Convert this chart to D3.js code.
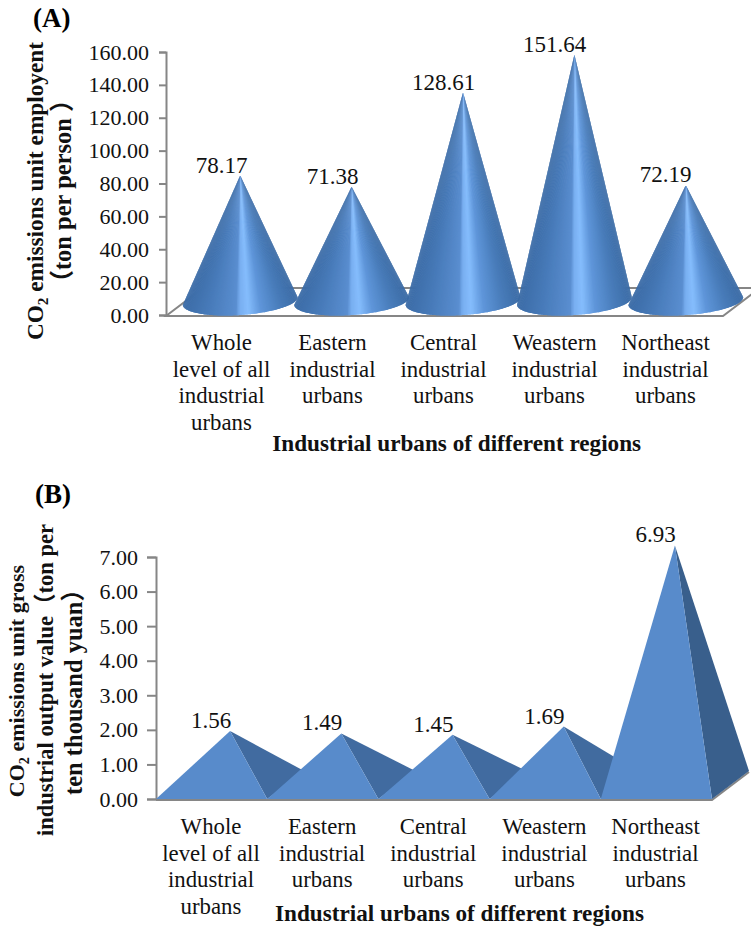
<!DOCTYPE html>
<html>
<head>
<meta charset="utf-8">
<script src="https://cdn.jsdelivr.net/npm/d3@7"></script>
<style>
body { margin: 0; background: #fff; }
svg { display: block; font-family: "Liberation Serif", "Noto Sans CJK SC", serif; }
.bold { font-weight: bold; }
</style>
</head>
<body>
<svg id="chart" width="751" height="928"></svg>
<script>
const categories = [
    ['Whole', 'level of all', 'industrial', 'urbans'],
    ['Eastern', 'industrial', 'urbans'],
    ['Central', 'industrial', 'urbans'],
    ['Weastern', 'industrial', 'urbans'],
    ['Northeast', 'industrial', 'urbans']
];
const valuesA = [78.17, 71.38, 128.61, 151.64, 72.19];
const ticksA = [0, 20, 40, 60, 80, 100, 120, 140, 160];
const valuesB = [1.56, 1.49, 1.45, 1.69, 6.93];
const ticksB = [0, 1, 2, 3, 4, 5, 6, 7];
const xTitle = 'Industrial urbans of different regions';

const svg = d3.select('#chart');
const fmt = d3.format('.2f');
const grey = '#868686';
const ink = '#111';
const depthX = 37, depthY = 28;
const serif = '"Liberation Serif", "Noto Sans CJK SC", serif';

function drawAxis(g, y, axisX, ticks, tickLen, pad) {
    let axis = g.append('g')
        .attr('transform', 'translate(' + axisX + ',0)')
        .call(d3.axisLeft(y).tickValues(ticks).tickFormat(fmt).tickSize(tickLen).tickPadding(pad));
    axis.selectAll('line, path').attr('stroke', grey).attr('stroke-width', 2);
    axis.selectAll('text').attr('font-size', 22).attr('font-family', serif).attr('fill', ink);
}

function drawCategories(g, x, top, step) {
    categories.forEach((lines, i) => {
        lines.forEach((line, j) => {
            g.append('text')
                .attr('x', x(i))
                .attr('y', top + j * step)
                .attr('text-anchor', 'middle')
                .attr('font-size', 22.8)
                .attr('fill', ink)
                .text(line);
        });
    });
}

function drawValueLabels(g, x, values, apexY) {
    values.forEach((v, i) => {
        g.append('text')
            .attr('x', x(i))
            .attr('y', apexY(v) - 3)
            .attr('text-anchor', 'middle')
            .attr('font-size', 23)
            .attr('fill', ink)
            .text(fmt(v));
    });
}

// y title line, optional CO2 subscript at the start
function yTitleLine(g, px, py, size, text, sub) {
    let t = g.append('text')
        .attr('class', 'bold')
        .attr('transform', 'translate(' + px + ',' + py + ') rotate(-90)')
        .attr('text-anchor', 'middle')
        .attr('font-size', size)
        .attr('fill', ink);
    if (sub) {
        t.append('tspan').text('CO');
        t.append('tspan').attr('dy', 5).attr('font-size', size * 0.65).text('2');
        t.append('tspan').attr('dy', -5).text(text);
    } else {
        t.text(text);
    }
}

/* ---------- panel A: cones ---------- */
const gA = svg.append('g');
const xA = d3.scaleBand().domain(d3.range(valuesA.length)).range([166, 723]);
const labelA = d3.scalePoint().domain(d3.range(valuesA.length)).range([221.5, 665.5]);
const yA = d3.scaleLinear().domain([0, 160]).range([315, 52]);

const floorA = [[166 + depthX, 316 - depthY], [723 + depthX, 316 - depthY], [723, 316], [166, 316], [166 + depthX, 316 - depthY]];
gA.append('path').attr('d', d3.line()(floorA)).attr('fill', 'none').attr('stroke', grey).attr('stroke-width', 2);
drawAxis(gA, yA, 166, ticksA, 7, 10);

const coneShade = d3.scaleLinear()
    .domain([-1, -0.6, -0.08, -0.01, 0.14, 0.36, 0.68, 1])
    .range(['#3c6ca7', '#477ab8', '#5a8ed0', '#78aef0', '#85bdfd', '#5f96da', '#4a7ebc', '#3c6ca6']);
const rx = 57.5, ry = 14, tilt = 4 * Math.PI / 180;
const apexA = (v) => yA(v) - 11;
const sliceAngles = d3.range(0, 121).map((d) => d * Math.PI / 120);

function basePoint(cx, cy, a) {
    let px = rx * Math.cos(a), py = ry * Math.sin(a);
    return [cx + px * Math.cos(tilt) + py * Math.sin(tilt), cy - px * Math.sin(tilt) + py * Math.cos(tilt)];
}

valuesA.forEach((v, i) => {
    let cx = xA(i) + xA.bandwidth() / 2 + depthX / 2;
    let cy = yA(0) - 14;
    let cone = gA.append('g');
    // slices overlap the next one so no seams show
    sliceAngles.slice(0, -1).forEach((a, k) => {
        let end = sliceAngles[Math.min(k + 2, sliceAngles.length - 1)];
        let pts = [[cx, apexA(v)], basePoint(cx, cy, a), basePoint(cx, cy, sliceAngles[k + 1]), basePoint(cx, cy, end)];
        cone.append('path')
            .attr('d', d3.line()(pts) + 'Z')
            .attr('fill', coneShade(Math.cos(a)));
    });
});
drawValueLabels(gA, labelA, valuesA, apexA);
drawCategories(gA, labelA, 350, 26.6);

gA.append('text').attr('class', 'bold').attr('x', 33).attr('y', 27).attr('font-size', 27).text('(A)');
yTitleLine(gA, 43, 191, 23.3, ' emissions unit employent', true);
yTitleLine(gA, 71, 191, 24.5, '（ton per person ）', false);
gA.append('text').attr('class', 'bold').attr('x', 456.7).attr('y', 451)
    .attr('text-anchor', 'middle').attr('font-size', 23.2).attr('fill', ink).text(xTitle);

/* ---------- panel B: pyramids ---------- */
const gB = svg.append('g');
const xB = d3.scaleBand().domain(d3.range(valuesB.length)).range([156, 712]);
const labelB = d3.scalePoint().domain(d3.range(valuesB.length)).range([211, 655.5]);
const yB = d3.scaleLinear().domain([0, 7]).range([799, 557]);
const apexB = (v) => yB(v) - depthY / 2;
const sideShade = d3.scaleLinear().domain([1.5, 6.93]).range(['#416ba0', '#395f8c']);

gB.append('path')
    .attr('d', d3.line()([[156, 800], [712, 800], [712 + depthX, 800 - depthY]]))
    .attr('fill', 'none').attr('stroke', grey).attr('stroke-width', 2);
drawAxis(gB, yB, 156, ticksB, 9, 9);

valuesB.forEach((v, i) => {
    let left = xB(i), right = left + xB.bandwidth();
    let mid = (left + right) / 2;
    let apex = [mid + depthX / 2, apexB(v)];
    gB.append('path')
        .attr('d', d3.line()([apex, [right, yB(0)], [right + depthX, yB(0) - depthY]]) + 'Z')
        .attr('fill', sideShade(v));
    gB.append('path')
        .attr('d', d3.line()([apex, [left, yB(0)], [right, yB(0)]]) + 'Z')
        .attr('fill', '#588bcb');
});
drawValueLabels(gB, labelB, valuesB, apexB);
drawCategories(gB, labelB, 834, 26.7);

gB.append('text').attr('class', 'bold').attr('x', 35).attr('y', 503).attr('font-size', 27).text('(B)');
yTitleLine(gB, 24, 681, 22, ' emissions unit gross', true);
yTitleLine(gB, 53, 680, 22.5, 'industrial output value（ton per', false);
yTitleLine(gB, 82, 686, 24.5, 'ten thousand yuan）', false);
gB.append('text').attr('class', 'bold').attr('x', 459.5).attr('y', 921)
    .attr('text-anchor', 'middle').attr('font-size', 23.2).attr('fill', ink).text(xTitle);
</script>
</body>
</html>
